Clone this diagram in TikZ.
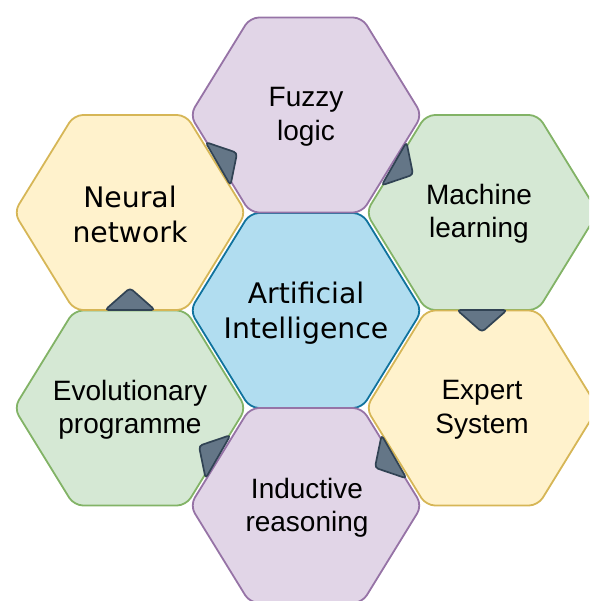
\documentclass[tikz,border=0pt]{standalone}
\usepackage{fontspec}
\setmainfont{Liberation Sans}
\newfontfamily\dejavu{DejaVu Sans}
\definecolor{purF}{HTML}{E1D5E7}\definecolor{purD}{HTML}{9673A6}
\definecolor{yelF}{HTML}{FFF2CC}\definecolor{yelD}{HTML}{D6B656}
\definecolor{grnF}{HTML}{D5E8D4}\definecolor{grnD}{HTML}{82B366}
\definecolor{bluF}{HTML}{B1DDF0}\definecolor{bluD}{HTML}{10739E}
\definecolor{triF}{HTML}{647687}\definecolor{triD}{HTML}{314354}
\newcommand\hexshape[4]{%
  \path[fill=#3,draw=#4,line width=1.8pt,rounded corners=9pt]
    ({#1-116},{#2}) -- ({#1-56},{#2-97.5}) -- ({#1+56},{#2-97.5}) --
    ({#1+116},{#2}) -- ({#1+56},{#2+97.5}) -- ({#1-56},{#2+97.5}) -- cycle;}
\tikzset{
  hextext/.style={align=center,text=black,font=\fontsize{28}{33.5}\selectfont},
  dvtext/.style={align=center,text=black,font=\dejavu\fontsize{28.3}{35}\selectfont},
  tri/.style={fill=triF,draw=triD,line width=1.7pt,rounded corners=3.5pt,line join=round}
}
\begin{document}
\begin{tikzpicture}[x=1pt,y=-1pt]
\useasboundingbox (0,0) rectangle (589,601);
\clip (0,0) rectangle (589,601);
\hexshape{306}{310.5}{bluF}{bluD}
\hexshape{306}{115}{purF}{purD}
\hexshape{482}{212.5}{grnF}{grnD}
\hexshape{482}{408}{yelF}{yelD}
\hexshape{306}{505.5}{purF}{purD}
\hexshape{130}{408}{grnF}{grnD}
\hexshape{130}{212.5}{yelF}{yelD}
\node[dvtext] (ai) at (306,313.5) {Artificial\\Intelligence};
\node[hextext] (fuzzy) at (306,117) {Fuzzy\\logic};
\node[hextext] (ml) at (479,214) {Machine\\learning};
\node[hextext] (es) at (482,410) {Expert\\System};
\node[hextext] (ir) at (307,508) {Inductive\\reasoning};
\node[hextext] (ep) at (130,410) {Evolutionary\\programme};
\node[dvtext] (nn) at (130,214) {Neural\\network};
% direction markers on shared edges
\path[tri] (205.5,142.1) -- (237.1,152.8) -- (230.5,185.4) -- cycle;
\path[tri] (381.6,185.4) -- (406.5,142.1) -- (413.1,174.7) -- cycle;
\path[tri] (457,310) -- (507,310) -- (482,332) -- cycle;
\path[tri] (381.6,435.1) -- (406.5,478.4) -- (374.9,467.7) -- cycle;
\path[tri] (205.6,478.4) -- (230.5,435.1) -- (198.9,445.8) -- cycle;
\path[tri] (105,310) -- (155,310) -- (130,288) -- cycle;
\end{tikzpicture}
\end{document}
